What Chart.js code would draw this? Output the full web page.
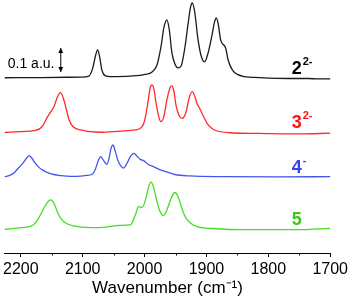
<!DOCTYPE html>
<html>
<head>
<meta charset="utf-8">
<script src="https://cdn.jsdelivr.net/npm/chart.js@4.4.0/dist/chart.umd.min.js"></script>
<style>
  html, body { margin: 0; padding: 0; background: #fff; }
</style>
</head>
<body>
<canvas id="chart" width="351" height="301"></canvas>
<script>
// IR spectra, wavenumber (cm-1) vs relative absorbance (a.u.)
const wnTicks = [2200, 2100, 2000, 1900, 1800, 1700];
const wnMinorTicks = [2150, 2050, 1950, 1850, 1750];

const blackWn = [2226, 2167, 2103, 2090, 2084, 2079, 2076, 2073, 2069, 2064, 2055, 2023, 1999, 1988, 1980, 1973, 1969, 1964, 1960, 1956, 1951, 1946, 1941, 1935, 1930, 1926, 1923, 1919, 1914, 1909, 1903, 1897, 1891, 1887, 1884, 1881, 1877, 1869, 1865, 1858, 1850, 1839, 1815, 1767, 1735, 1719, 1700];
const blackAbs = [0.001, 0.002, 0.004, 0.008, 0.04, 0.096, 0.117, 0.092, 0.033, 0.01, 0.006, 0.008, 0.015, 0.025, 0.054, 0.138, 0.208, 0.242, 0.2, 0.108, 0.058, 0.042, 0.05, 0.125, 0.22, 0.292, 0.3125, 0.275, 0.167, 0.096, 0.067, 0.108, 0.179, 0.233, 0.25, 0.225, 0.158, 0.125, 0.075, 0.033, 0.015, 0.006, 0.002, -0.002, -0.002, -0.004, -0.004];

const redWn = [2226, 2199, 2178, 2170, 2164, 2157, 2151, 2146, 2141, 2136, 2132, 2127, 2122, 2116, 2103, 2071, 2039, 2015, 2004, 1999, 1994, 1991, 1988, 1985, 1981, 1977, 1974, 1969, 1964, 1959, 1956, 1953, 1949, 1944, 1939, 1933, 1928, 1923, 1919, 1915, 1911, 1906, 1899, 1893, 1887, 1863, 1815, 1751, 1700];
const redAbs = [0.002, 0.006, 0.01, 0.017, 0.033, 0.067, 0.09, 0.1125, 0.15, 0.168, 0.15, 0.104, 0.054, 0.027, 0.0125, 0.003, 0.008, 0.0125, 0.026, 0.0625, 0.1375, 0.1875, 0.2, 0.183, 0.117, 0.067, 0.047, 0.067, 0.1375, 0.1875, 0.196, 0.179, 0.1125, 0.071, 0.061, 0.0875, 0.146, 0.172, 0.154, 0.121, 0.103, 0.075, 0.04, 0.023, 0.0125, 0.001, -0.002, -0.004, -0.001];

const blueWn = [2226, 2218, 2210, 2204, 2199, 2194, 2190, 2187, 2183, 2178, 2172, 2164, 2151, 2135, 2119, 2095, 2084, 2079, 2075, 2071, 2067, 2061, 2057, 2054, 2051, 2048, 2043, 2038, 2034, 2029, 2023, 2017, 2012, 2007, 2001, 1994, 1985, 1975, 1964, 1951, 1927, 1871, 1783, 1700];
const blueAbs = [-0.001, 0.004, 0.0175, 0.035, 0.048, 0.065, 0.079, 0.087, 0.079, 0.06, 0.041, 0.025, 0.0104, 0.003, 0, 0.004, 0.0104, 0.034, 0.065, 0.0825, 0.069, 0.05, 0.081, 0.119, 0.131, 0.11, 0.065, 0.042, 0.035, 0.052, 0.083, 0.096, 0.083, 0.071, 0.065, 0.05, 0.04, 0.027, 0.019, 0.008, 0.002, -0.001, -0.002, -0.001];

const greenWn = [2226, 2199, 2180, 2173, 2167, 2160, 2155, 2152, 2149, 2144, 2140, 2135, 2127, 2108, 2076, 2039, 2023, 2015, 2010, 2004, 1999, 1994, 1990, 1986, 1981, 1976, 1970, 1964, 1957, 1951, 1946, 1941, 1935, 1927, 1914, 1890, 1847, 1751, 1700];
const greenAbs = [0.001, 0.0075, 0.019, 0.04, 0.0675, 0.102, 0.119, 0.123, 0.119, 0.094, 0.0675, 0.044, 0.026, 0.012, 0.0075, 0.017, 0.019, 0.06, 0.095, 0.092, 0.119, 0.173, 0.197, 0.181, 0.127, 0.081, 0.058, 0.081, 0.131, 0.154, 0.137, 0.098, 0.056, 0.029, 0.0104, 0.004, -0.001, -0.001, 0.005];

const seriesNames = ["2", "3", "4", "5"];
const seriesCharges = ["2-", "2-", "-", ""];
const seriesOffsets = [0.729, 0.5, 0.319, 0.098];
const seriesColors = ["#1a1a1a", "#ff2a2a", "#4455f0", "#44dd22"];
const labelColors = ["#000000", "#ff1010", "#3344ee", "#33cc11"];

const FONT = "'Liberation Sans', Arial, sans-serif";

const makePoints = (wn, abs, off) => wn.map((x, i) => ({ x: x, y: abs[i] + off }));

const allWn = [blackWn, redWn, blueWn, greenWn];
const allAbs = [blackAbs, redAbs, blueAbs, greenAbs];

const extras = {
  id: "extras",
  afterDatasetsDraw(chart) {
    const { ctx, chartArea } = chart;
    const xs = chart.scales.x;
    const ys = chart.scales.y;
    ctx.save();

    // minor ticks
    ctx.strokeStyle = "#000";
    ctx.lineWidth = 1;
    wnMinorTicks.forEach((v) => {
      const px = Math.round(xs.getPixelForValue(v)) + 0.5;
      ctx.beginPath();
      ctx.moveTo(px, chartArea.bottom);
      ctx.lineTo(px, chartArea.bottom + 2.5);
      ctx.stroke();
    });

    // scale bar: 0.1 a.u.
    const ax = chartArea.left + 56;
    const y0 = ys.getPixelForValue(0.754);
    const y1 = ys.getPixelForValue(0.854);
    ctx.beginPath();
    ctx.moveTo(ax, y0);
    ctx.lineTo(ax, y1);
    ctx.stroke();
    ctx.fillStyle = "#000";
    ctx.beginPath();
    ctx.moveTo(ax, y1); ctx.lineTo(ax - 2.5, y1 + 5); ctx.lineTo(ax + 2.5, y1 + 5); ctx.closePath();
    ctx.fill();
    ctx.beginPath();
    ctx.moveTo(ax, y0); ctx.lineTo(ax - 2.5, y0 - 5); ctx.lineTo(ax + 2.5, y0 - 5); ctx.closePath();
    ctx.fill();
    ctx.font = "14px " + FONT;
    ctx.textBaseline = "alphabetic";
    ctx.textAlign = "left";
    ctx.fillText("0.1 a.u.", chartArea.left + 3, 68);

    // compound labels
    const labelY = [74, 128, 172.5, 225];
    seriesNames.forEach((name, i) => {
      const x = chartArea.right - 38.5;
      ctx.fillStyle = labelColors[i];
      ctx.font = "bold 18px " + FONT;
      ctx.fillText(name, x, labelY[i]);
      const w = ctx.measureText(name).width;
      if (seriesCharges[i]) {
        ctx.font = "bold 11px " + FONT;
        ctx.fillText(seriesCharges[i], x + w + 1, labelY[i] - 9);
      }
    });
    ctx.restore();
  },
};

new Chart(document.getElementById("chart"), {
  type: "line",
  data: {
    datasets: seriesNames.map((name, i) => ({
      label: name,
      data: makePoints(allWn[i], allAbs[i], seriesOffsets[i]),
      borderColor: seriesColors[i],
      borderWidth: 1.3,
      pointRadius: 0,
      fill: false,
      cubicInterpolationMode: "monotone",
      clip: false,
    })),
  },
  options: {
    responsive: false,
    animation: false,
    layout: { padding: { left: 3, right: 19, top: 0, bottom: 0 } },
    scales: {
      x: {
        type: "linear",
        reverse: true,
        min: 1700,
        max: 2226,
        afterBuildTicks: (scale) => {
          scale.ticks = wnTicks.map((v) => ({ value: v }));
        },
        afterFit: (scale) => {
          scale.height = 48;
        },
        ticks: {
          autoSkip: false,
          maxRotation: 0,
          color: "#000",
          padding: 3,
          font: { family: FONT, size: 16 },
          callback: (v) => String(v),
        },
        grid: {
          drawOnChartArea: false,
          tickLength: 4,
          tickColor: "#000",
        },
        border: { color: "#000", width: 1 },
        title: {
          display: true,
          text: "Wavenumber (cm⁻¹)",
          color: "#000",
          font: { family: FONT, size: 17 },
          padding: { top: 0, bottom: 2 },
        },
      },
      y: {
        display: false,
        min: 0,
        max: 1.054,
      },
    },
    plugins: {
      legend: { display: false },
      tooltip: { enabled: false },
    },
  },
  plugins: [extras],
});
</script>
</body>
</html>
